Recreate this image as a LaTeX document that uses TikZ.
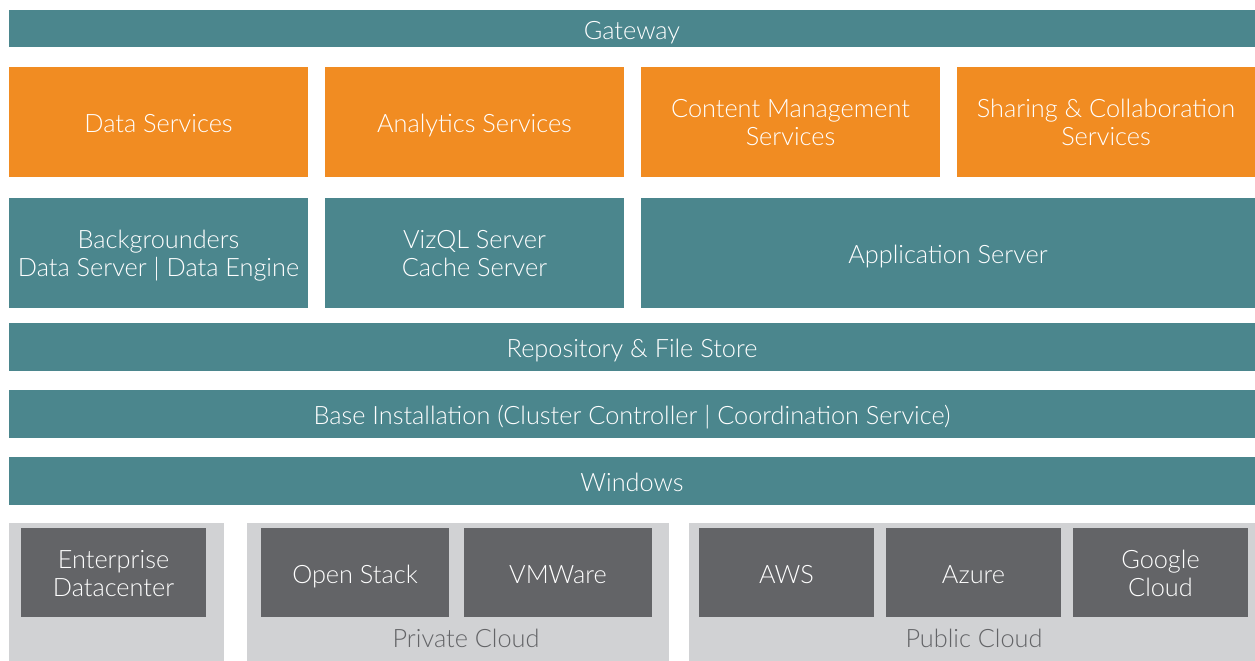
\documentclass[tikz,border=0pt]{standalone}
\usepackage{fontspec}
\setmainfont{Lato}[UprightFont={* Light}]
\usepackage{tikz}

\definecolor{tealbar}{HTML}{4B868D}
\definecolor{orangebox}{HTML}{F18C22}
\definecolor{darkbox}{HTML}{636467}
\definecolor{lightpanel}{HTML}{D1D2D4}

\tikzset{
  lbl/.style={text=white, align=center, font=\fontsize{14.4}{16}\selectfont,
    yshift=-2.8pt, execute at begin node=\strut, execute at end node=\strut},
  cloudlbl/.style={text=darkbox, font=\fontsize{14.4}{16}\selectfont},
}

\begin{document}
\begin{tikzpicture}[x=0.02cm, y=-0.02cm]
    \useasboundingbox[fill=white] (0,0) rectangle (1255,661);

    % top of the stack
    \fill[tealbar] (9,10) rectangle node[lbl] (gateway) {Gateway} (1255,47);

    \fill[orangebox] (9,67) rectangle node[lbl] (datasvc) {Data Services} (308,177);
    \fill[orangebox] (325,67) rectangle node[lbl] (analytics) {Analytics Services} (624,177);
    \fill[orangebox] (641,67) rectangle node[lbl] (content) {Content Management\\Services} (940,177);
    \fill[orangebox] (957,67) rectangle node[lbl] (sharing) {Sharing \& Collaboration\\Services} (1255,177);

    \fill[tealbar] (9,198) rectangle node[lbl] (backgr) {Backgrounders\\Data Server | Data Engine} (308,308);
    \fill[tealbar] (325,198) rectangle node[lbl] (vizql) {VizQL Server\\Cache Server} (624,308);
    \fill[tealbar] (641,198) rectangle node[lbl] (appsrv) {Application Server} (1255,308);

    \fill[tealbar] (9,323) rectangle node[lbl] (repo) {Repository \& File Store} (1255,371);
    \fill[tealbar] (9,390) rectangle node[lbl] (base) {Base Installation (Cluster Controller | Coordination Service)} (1255,438);
    \fill[tealbar] (9,457) rectangle node[lbl] (windows) {Windows} (1255,505);

    % hosting
    \fill[lightpanel] (9,523) rectangle (224,661);
    \fill[lightpanel] (247,523) rectangle (669,661);
    \fill[lightpanel] (689,523) rectangle (1255,661);

    \fill[darkbox] (21,528) rectangle node[lbl] (enterprise) {Enterprise\\Datacenter} (206,617);
    \fill[darkbox] (261,528) rectangle node[lbl] (openstack) {Open Stack} (449,617);
    \fill[darkbox] (464,528) rectangle node[lbl] (vmware) {VMWare} (652,617);
    \fill[darkbox] (699,528) rectangle node[lbl] (aws) {AWS} (874,617);
    \fill[darkbox] (886,528) rectangle node[lbl] (azure) {Azure} (1061,617);
    \fill[darkbox] (1073,528) rectangle node[lbl] (google) {Google\\Cloud} (1248,617);

    \node[cloudlbl] (private) at (466,638) {Private Cloud};
    \node[cloudlbl] (public) at (974,638) {Public Cloud};
\end{tikzpicture}
\end{document}
